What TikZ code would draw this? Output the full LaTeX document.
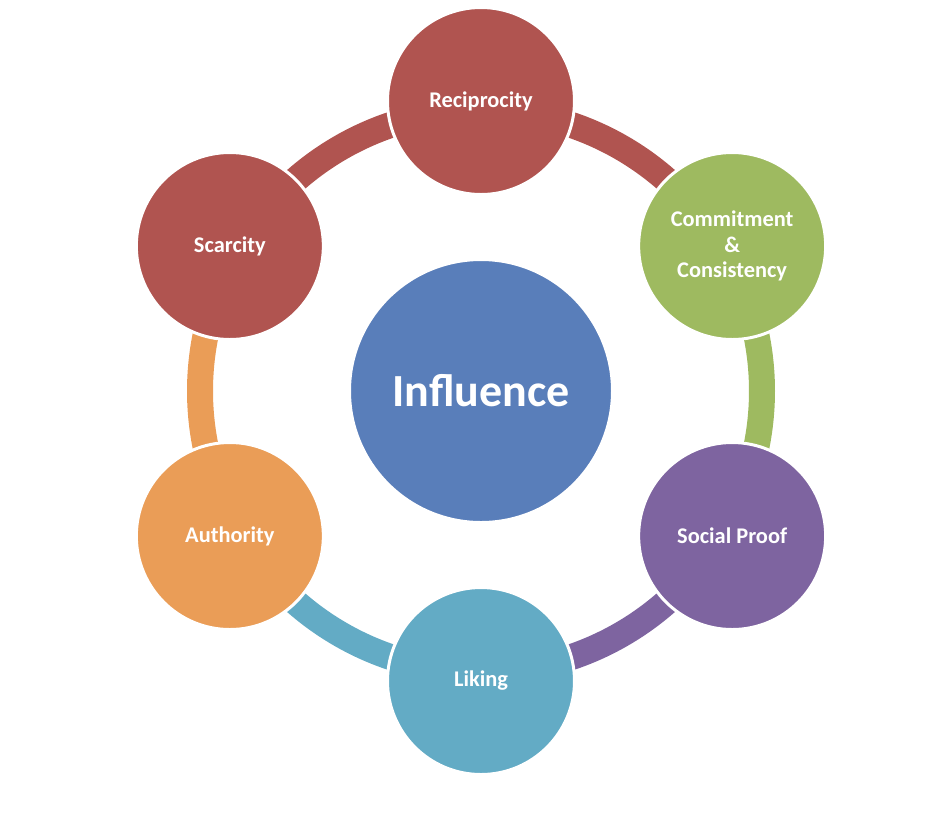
\documentclass[tikz,border=0pt]{standalone}
\usepackage{fontspec}
\setmainfont{Carlito}
\usetikzlibrary{backgrounds}

\definecolor{recred}{HTML}{B05450}
\definecolor{comgreen}{HTML}{9EBA60}
\definecolor{socpurple}{HTML}{7E64A0}
\definecolor{liketeal}{HTML}{63ABC5}
\definecolor{authorange}{HTML}{EA9D57}
\definecolor{inflblue}{HTML}{597EBA}

\tikzset{
  factor/.style={circle, draw=white, line width=1.5pt, minimum size=93.5pt,
    inner sep=0pt, text=white, align=center,
    font=\bfseries\fontsize{11.2}{12.8}\selectfont},
  band/.style={line width=13pt},
}

\begin{document}
\begin{tikzpicture}[x=0.5pt,y=0.5pt]
\useasboundingbox (-481,-425) rectangle (465,391);
% centre
\node[factor, fill=inflblue, minimum size=131.5pt,
  font=\bfseries\fontsize{23}{28}\selectfont] (infl) at (0,0) {Influence};
% the six factors round the ring
\node[factor, fill=recred] (recip) at (90:290) {Reciprocity};
\node[factor, fill=comgreen] (commit) at (30:290) {Commitment\\\&\\Consistency};
\node[factor, fill=socpurple] (social) at (-30:290) {Social Proof};
\node[factor, fill=liketeal] (liking) at (-90:290) {Liking};
\node[factor, fill=authorange] (author) at (-150:290) {Authority};
\node[factor, fill=recred] (scarce) at (150:290) {Scarcity};
% ring pieces, each in the colour of the circle it leaves
\begin{scope}[on background layer]
  \draw[band, recred] (infl.center) ++(90:281) arc[start angle=90, end angle=30, radius=281];
  \draw[band, comgreen] (infl.center) ++(30:281) arc[start angle=30, end angle=-30, radius=281];
  \draw[band, socpurple] (infl.center) ++(-30:281) arc[start angle=-30, end angle=-90, radius=281];
  \draw[band, liketeal] (infl.center) ++(-90:281) arc[start angle=-90, end angle=-150, radius=281];
  \draw[band, authorange] (infl.center) ++(-150:281) arc[start angle=-150, end angle=-210, radius=281];
  \draw[band, recred] (infl.center) ++(150:281) arc[start angle=150, end angle=90, radius=281];
\end{scope}
\end{tikzpicture}
\end{document}
